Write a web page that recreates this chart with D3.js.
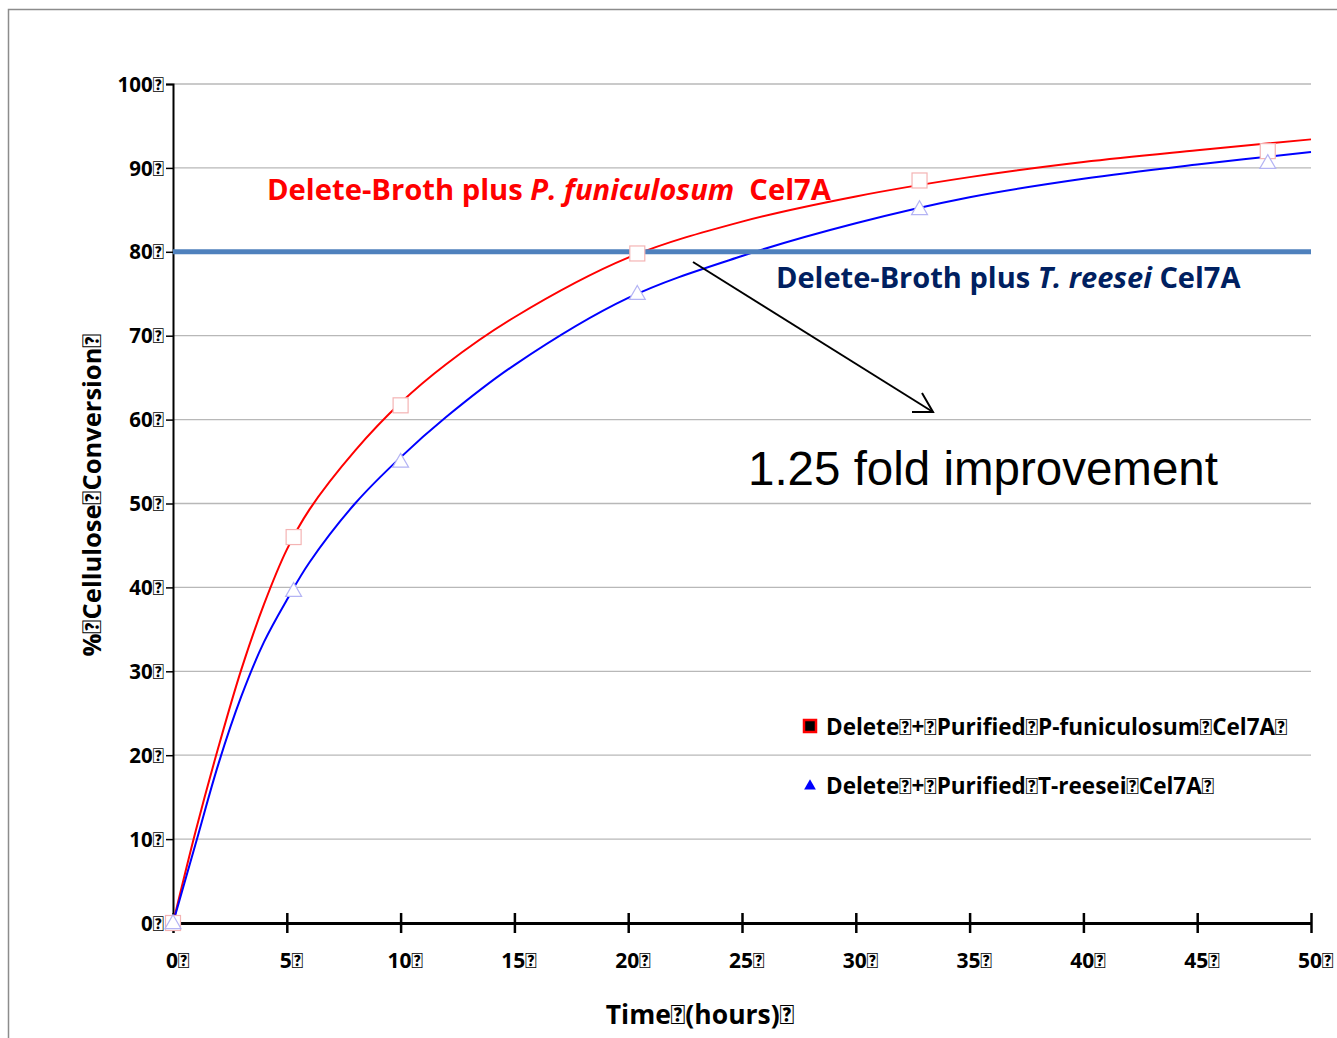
<!DOCTYPE html>
<html><head><meta charset="utf-8">
<script src="https://cdn.jsdelivr.net/npm/d3@7"></script>
<style>body{margin:0;background:#fff}svg{display:block}</style>
</head><body>
<svg id="c" width="1337" height="1038"></svg>
<script>
const B = "\uE000";
// data
const redPointsX = [0, 5.3, 10, 20.4, 32.8, 48.1];
const redPointsY = [0, 46, 61.7, 79.8, 88.5, 92];
const bluePointsX = [0, 5.3, 10, 20.4, 32.8, 48.1];
const bluePointsY = [0, 39.6, 55, 75, 85.1, 90.6];
const curveX = [0, 1, 2, 3, 4, 5, 6, 8, 10, 12, 15, 20, 25, 30, 35, 40, 45, 50];
const redCurveY = [0, 11, 21, 30.2, 38, 44.5, 49.3, 56.3, 62, 66.6, 72.2, 79.3, 83.6, 86.6, 88.9, 90.7, 92.1, 93.4];
const blueCurveY = [0, 9.5, 19, 27, 33.5, 38.5, 43, 50, 55.5, 60.3, 66.5, 74.5, 79.5, 83.4, 86.5, 88.7, 90.4, 91.9];
const thresholdY = 80;
const yTicks = [0, 10, 20, 30, 40, 50, 60, 70, 80, 90, 100];
const xTicks = [0, 5, 10, 15, 20, 25, 30, 35, 40, 45, 50];
const legendLabels = ["Delete" + B + "+" + B + "Purified" + B + "P-funiculosum" + B + "Cel7A" + B,
                      "Delete" + B + "+" + B + "Purified" + B + "T-reesei" + B + "Cel7A" + B];

const svg = d3.select("#c");
const font = "'Open Sans', Lato, sans-serif";
const x = d3.scaleLinear().domain([0, 50]).range([173, 1311]);
const y = d3.scaleLinear().domain([0, 100]).range([923, 84]);

// write a string into a text element, letting the missing-glyph character show as a box
function boxText(sel, str) {
  sel.text(null);
  const parts = str.split(B);
  parts.forEach((p, i) => {
    if (p) sel.append("tspan").text(p);
    if (i < parts.length - 1) sel.append("tspan").attr("font-family", "Lato").text(B);
  });
}

// frame
svg.append("path").attr("d", "M8.5,1038 V9.5 H1337").attr("fill", "none").attr("stroke", "#8c8c8c").attr("stroke-width", 1.5);

// gridlines
svg.append("g").selectAll("line").data(yTicks.slice(1)).join("line")
  .attr("x1", x(0)).attr("x2", x(50)).attr("y1", d => y(d)).attr("y2", d => y(d))
  .attr("stroke", "#b8b8b8").attr("stroke-width", 1.3);

// y axis
const ya = svg.append("g").attr("transform", `translate(${x(0)},0)`)
  .call(d3.axisLeft(y).tickValues(yTicks).tickSize(7).tickFormat(d => d + B));
ya.select(".domain").attr("stroke", "#000").attr("stroke-width", 2);
ya.selectAll(".tick line").attr("stroke", "#000").attr("stroke-width", 1.5);
ya.selectAll("text").attr("font-family", font).attr("font-weight", "bold").attr("font-size", 20.5).attr("fill", "#000").attr("x", -9).attr("dy", "0.35em")
  .each(function(d) { boxText(d3.select(this), d + B); });

// x axis
const xa = svg.append("g").attr("transform", `translate(0,${y(0)})`)
  .call(d3.axisBottom(x).tickValues(xTicks).tickSize(0).tickFormat(d => d + B));
xa.select(".domain").attr("stroke", "#000").attr("stroke-width", 3);
xa.selectAll(".tick").append("line").attr("y1", -10).attr("y2", 10).attr("stroke", "#000").attr("stroke-width", 2.5);
xa.selectAll("text").attr("font-family", font).attr("font-weight", "bold").attr("font-size", 21).attr("fill", "#000").attr("y", 30).attr("dx", "0.2em")
  .each(function(d) { boxText(d3.select(this), d + B); });

// curves
const line = d3.line().x(d => x(d[0])).y(d => y(d[1])).curve(d3.curveCatmullRom.alpha(0.5));
svg.append("path").attr("d", line(curveX.map((v, i) => [v, redCurveY[i]]))).attr("fill", "none").attr("stroke", "#ff0000").attr("stroke-width", 2);
svg.append("path").attr("d", line(curveX.map((v, i) => [v, blueCurveY[i]]))).attr("fill", "none").attr("stroke", "#0000ff").attr("stroke-width", 2);

// threshold line
svg.append("line").attr("x1", x(0)).attr("x2", x(50)).attr("y1", y(thresholdY)).attr("y2", y(thresholdY))
  .attr("stroke", "#4f81bd").attr("stroke-width", 5);

// markers
svg.append("g").selectAll("rect").data(redPointsX.map((v, i) => [v, redPointsY[i]])).join("rect")
  .attr("x", d => x(d[0]) - 7.5).attr("y", d => y(d[1]) - 7.5).attr("width", 15).attr("height", 15)
  .attr("fill", "#fff").attr("stroke", "#f4b4b4").attr("stroke-width", 1.2);
const tri = d3.symbol().type(d3.symbolTriangle).size(110);
svg.append("g").selectAll("path").data(bluePointsX.map((v, i) => [v, bluePointsY[i]])).join("path")
  .attr("d", tri).attr("transform", d => `translate(${x(d[0])},${y(d[1]) + 1})`)
  .attr("fill", "#fff").attr("stroke", "#b4b4f4").attr("stroke-width", 1.2);

// annotations
const t1 = svg.append("text").attr("x", 267).attr("y", 200).attr("font-family", font).attr("font-weight", "bold").attr("font-size", 29.2).attr("fill", "#ff0000");
t1.append("tspan").text("Delete-Broth plus ");
t1.append("tspan").attr("font-style", "italic").text("P. funiculosum");
t1.append("tspan").text("\u00a0 Cel7A");
const t2 = svg.append("text").attr("x", 776).attr("y", 288).attr("font-family", font).attr("font-weight", "bold").attr("font-size", 29).attr("fill", "#002060");
t2.append("tspan").text("Delete-Broth plus ");
t2.append("tspan").attr("font-style", "italic").text("T. reesei");
t2.append("tspan").text(" Cel7A");
svg.append("text").attr("x", 748).attr("y", 485).attr("font-family", "'Liberation Sans', Arial, sans-serif").attr("font-size", 47.5).attr("fill", "#000").text("1.25 fold improvement");

// arrow
svg.append("line").attr("x1", 693).attr("y1", 262).attr("x2", 933).attr("y2", 412).attr("stroke", "#000").attr("stroke-width", 2);
svg.append("path").attr("d", "M922,393 L933,412 L912,412").attr("fill", "none").attr("stroke", "#000").attr("stroke-width", 2);

// legend
svg.append("rect").attr("x", 804).attr("y", 720).attr("width", 12).attr("height", 12).attr("fill", "#000").attr("stroke", "#ff0000").attr("stroke-width", 2.5);
svg.append("path").attr("d", d3.symbol().type(d3.symbolTriangle).size(60)).attr("transform", "translate(810,786)").attr("fill", "#0000ff");
svg.append("g").selectAll("text").data(legendLabels).join("text")
  .attr("x", 826).attr("y", (d, i) => 735 + i * 59).attr("font-family", font).attr("font-weight", "bold").attr("font-size", 22.5).attr("fill", "#000")
  .each(function(d) { boxText(d3.select(this), d); });

// axis titles
const yt = svg.append("text").attr("transform", "translate(101,495) rotate(-90)").attr("text-anchor", "middle")
  .attr("font-family", font).attr("font-weight", "bold").attr("font-size", 25.5).attr("fill", "#000");
boxText(yt, "%" + B + "Cellulose" + B + "Conversion" + B);
const xt = svg.append("text").attr("x", 700).attr("y", 1024).attr("text-anchor", "middle")
  .attr("font-family", font).attr("font-weight", "bold").attr("font-size", 26.5).attr("fill", "#000");
boxText(xt, "Time" + B + "(hours)" + B);
</script>
</body></html>
